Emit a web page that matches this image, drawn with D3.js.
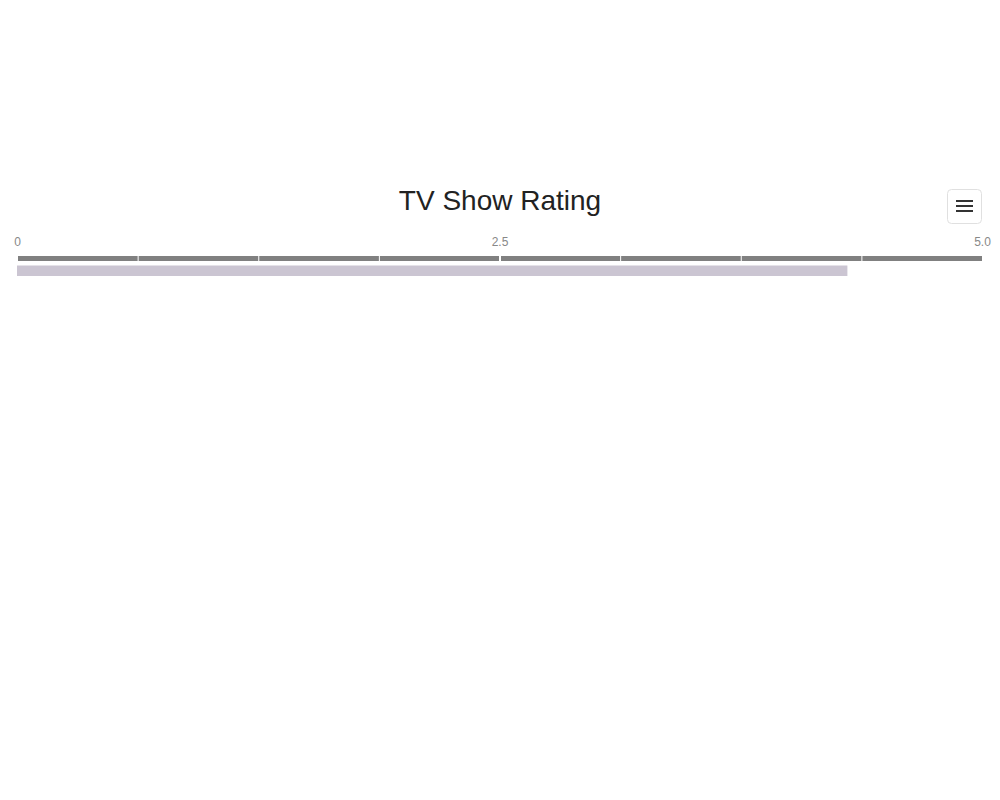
<!DOCTYPE html>
<html>
<head>
<meta charset="utf-8">
<script src="https://cdn.jsdelivr.net/npm/d3@7"></script>
<style>
  html, body { margin: 0; padding: 0; background: #fff; }
  svg { display: block; font-family: "Liberation Sans", Arial, sans-serif; }
</style>
</head>
<body>
<svg id="chart" width="1000" height="800"></svg>
<script>
const title = "TV Show Rating";
const seriesValues = [4.3];
const tickValues = [0, 2.5, 5];
const tickLabels = ["0", "2.5", "5.0"];
const minorTickValues = [0.625, 1.25, 1.875, 3.125, 3.75, 4.375];
const domain = [0, 5];

const svg = d3.select("#chart");
const x = d3.scaleLinear().domain(domain).range([17.5, 982.5]);

// Title
svg.append("text")
  .attr("x", 500).attr("y", 210)
  .attr("text-anchor", "middle")
  .attr("font-size", 28)
  .attr("fill", "#222")
  .text(title);

// Menu button
const btn = svg.append("g");
btn.append("rect")
  .attr("x", 947.5).attr("y", 189.5).attr("width", 34).attr("height", 34)
  .attr("rx", 4).attr("fill", "#fff").attr("stroke", "#e0e0e0").attr("stroke-width", 1);
[201, 206, 211].forEach(yy => {
  btn.append("line").attr("x1", 956).attr("x2", 973).attr("y1", yy).attr("y2", yy)
    .attr("stroke", "#333").attr("stroke-width", 2);
});

// Axis band
svg.append("rect")
  .attr("x", Math.round(x(0)) ).attr("y", 256)
  .attr("width", Math.round(x(5)) - Math.round(x(0)) - 1).attr("height", 5)
  .attr("fill", "#808080");

// Minor ticks (white gaps)
svg.selectAll(".minor").data(minorTickValues).join("line")
  .attr("x1", d => x(d)).attr("x2", d => x(d))
  .attr("y1", 255).attr("y2", 262)
  .attr("stroke", "#fff").attr("stroke-width", 1);

// Major ticks
svg.selectAll(".major").data(tickValues.filter(d => d > domain[0] && d < domain[1])).join("line")
  .attr("x1", d => x(d)).attr("x2", d => x(d))
  .attr("y1", 255).attr("y2", 262)
  .attr("stroke", "#fff").attr("stroke-width", 2);

// Tick labels
svg.selectAll(".tl").data(tickValues).join("text")
  .attr("x", d => x(d))
  .attr("y", 246)
  .attr("text-anchor", "middle")
  .attr("font-size", 12)
  .attr("fill", "#888")
  .text((d, i) => tickLabels[i]);

// Value bar
svg.selectAll(".bar").data(seriesValues).join("rect")
  .attr("x", 17).attr("y", 265.5)
  .attr("width", d => x(d) - 17).attr("height", 10.5)
  .attr("fill", "#cbc5d2");
</script>
</body>
</html>
